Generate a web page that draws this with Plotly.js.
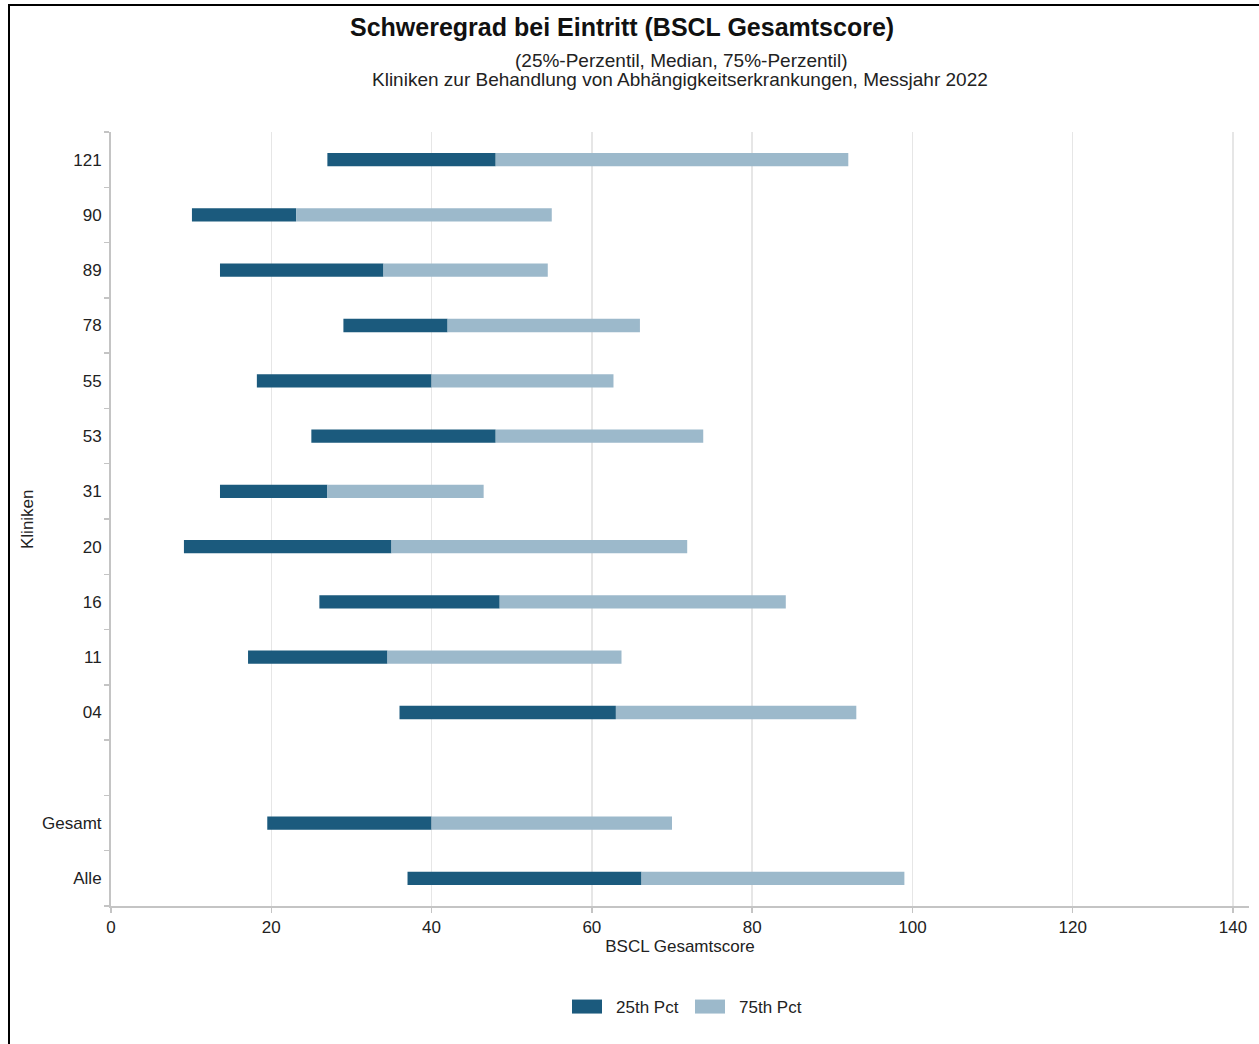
<!DOCTYPE html>
<html>
<head>
<meta charset="utf-8">
<script src="https://cdn.plot.ly/plotly-3.0.1.min.js"></script>
<style>
  html, body { margin: 0; padding: 0; background: #fff; }
  #chart { width: 1259px; height: 1044px; }
  #frame { position: absolute; left: 8px; top: 4px; width: 1251px; height: 1040px;
           border-left: 2px solid #000; border-top: 2px solid #000; pointer-events: none; }
</style>
</head>
<body>
<div id="chart"></div>
<div id="frame"></div>
<script>
// Categories (top to bottom); " " is the empty spacer row
const categories = ["121", "90", "89", "78", "55", "53", "31", "20", "16", "11", "04", " ", "Gesamt", "Alle"];
const p25    = [27.0, 10.1, 13.6, 29.0, 18.2, 25.0, 13.6,  9.1, 26.0, 17.1, 36.0, null, 19.5, 37.0];
const median = [48.0, 23.1, 34.0, 42.0, 40.0, 48.0, 27.0, 35.0, 48.5, 34.5, 63.0, null, 40.0, 66.2];
const p75    = [92.0, 55.0, 54.5, 66.0, 62.7, 73.9, 46.5, 71.9, 84.2, 63.7, 93.0, null, 70.0, 99.0];
const seriesNames = ["25th Pct", "75th Pct"];
const seriesColors = ["#1B5A7D", "#9CB9CB"];
const xTicks = [0, 20, 40, 60, 80, 100, 120, 140];

const lower = p25.map((v, i) => (v === null ? null : median[i] - v));
const upper = p75.map((v, i) => (v === null ? null : v - median[i]));

const font = "Liberation Sans, Arial, sans-serif";
const txt = "#222";

const traces = [
  {
    type: "bar", orientation: "h", name: seriesNames[0], showlegend: false,
    y: categories, x: lower, base: p25, width: 0.24,
    marker: { color: seriesColors[0], line: { width: 0 } },
    hoverinfo: "skip"
  },
  {
    type: "bar", orientation: "h", name: seriesNames[1], showlegend: false,
    y: categories, x: upper, base: median, width: 0.24,
    marker: { color: seriesColors[1], line: { width: 0 } },
    hoverinfo: "skip"
  },
  // legend entries (rectangular swatches)
  {
    type: "scatter", mode: "lines", name: seriesNames[0],
    x: [null], y: [null], line: { color: seriesColors[0], width: 14 }, hoverinfo: "skip"
  },
  {
    type: "scatter", mode: "lines", name: seriesNames[1],
    x: [null], y: [null], line: { color: seriesColors[1], width: 14 }, hoverinfo: "skip"
  }
];

const layout = {
  width: 1259, height: 1044,
  margin: { l: 111, r: 10, t: 132, b: 138 },
  paper_bgcolor: "#fff", plot_bgcolor: "#fff",
  barmode: "overlay",
  showlegend: true,
  font: { family: font, color: txt, size: 17 },
  xaxis: {
    range: [0, 142], tickvals: xTicks, ticktext: xTicks.map(String),
    showgrid: true, gridcolor: "#e6e6e6", gridwidth: 1.5,
    zeroline: false, showline: true, linecolor: "#c4c4c4", linewidth: 2,
    ticks: "outside", ticklen: 5, tickcolor: "#c4c4c4", tickwidth: 1.5,
    tickfont: { size: 17, family: font, color: txt },
    title: { text: "BSCL Gesamtscore", font: { size: 17, family: font, color: txt }, standoff: 3 }
  },
  yaxis: {
    type: "category", categoryorder: "array", categoryarray: categories.slice().reverse(),
    range: [-0.5, categories.length - 0.5],
    tickson: "boundaries", showgrid: false, zeroline: false,
    showline: true, linecolor: "#c4c4c4", linewidth: 2,
    ticks: "outside", ticklen: 5, tickcolor: "#c4c4c4", tickwidth: 1.5,
    tickfont: { size: 17, family: font, color: txt },
    ticklabelstandoff: 4
  },
  legend: {
    orientation: "h", x: (567 - 111) / 1138, xanchor: "left", y: -(1007 - 906) / 774, yanchor: "middle",
    font: { size: 17, family: font, color: txt },
    traceorder: "normal", entrywidth: 78, entrywidthmode: "pixels"
  },
  annotations: [
    { text: "<b>Schweregrad bei Eintritt (BSCL Gesamtscore)</b>", xref: "paper", yref: "paper",
      x: (622 - 111) / 1138, y: (906 - 27) / 774, xanchor: "center", yanchor: "middle",
      showarrow: false, font: { size: 25, family: font, color: "#111" } },
    { text: "(25%-Perzentil, Median, 75%-Perzentil)", xref: "paper", yref: "paper",
      x: (681 - 111) / 1138, y: (906 - 60) / 774, xanchor: "center", yanchor: "middle",
      showarrow: false, font: { size: 19, family: font, color: txt } },
    { text: "Kliniken zur Behandlung von Abhängigkeitserkrankungen, Messjahr 2022", xref: "paper", yref: "paper",
      x: (680 - 111) / 1138, y: (906 - 80) / 774, xanchor: "center", yanchor: "middle",
      showarrow: false, font: { size: 19, family: font, color: txt } },
    { text: "Kliniken", xref: "paper", yref: "paper", textangle: -90,
      x: (27 - 111) / 1138, y: 0.5, xanchor: "center", yanchor: "middle",
      showarrow: false, font: { size: 17, family: font, color: txt } }
  ]
};

Plotly.newPlot("chart", traces, layout, { displayModeBar: false, staticPlot: true }).then(function (gd) {
  // widen legend swatches into 30x14 rectangles and open the gap before the text
  gd.querySelectorAll(".legend .legendlines path").forEach(function (p) {
    p.setAttribute("d", "M5,0h30");
    p.style.strokeWidth = "14px";
    p.style.strokeLinecap = "butt";
  });
  gd.querySelectorAll(".legend .legendtext").forEach(function (t) {
    t.setAttribute("x", "49");
  });
});
</script>
</body>
</html>
